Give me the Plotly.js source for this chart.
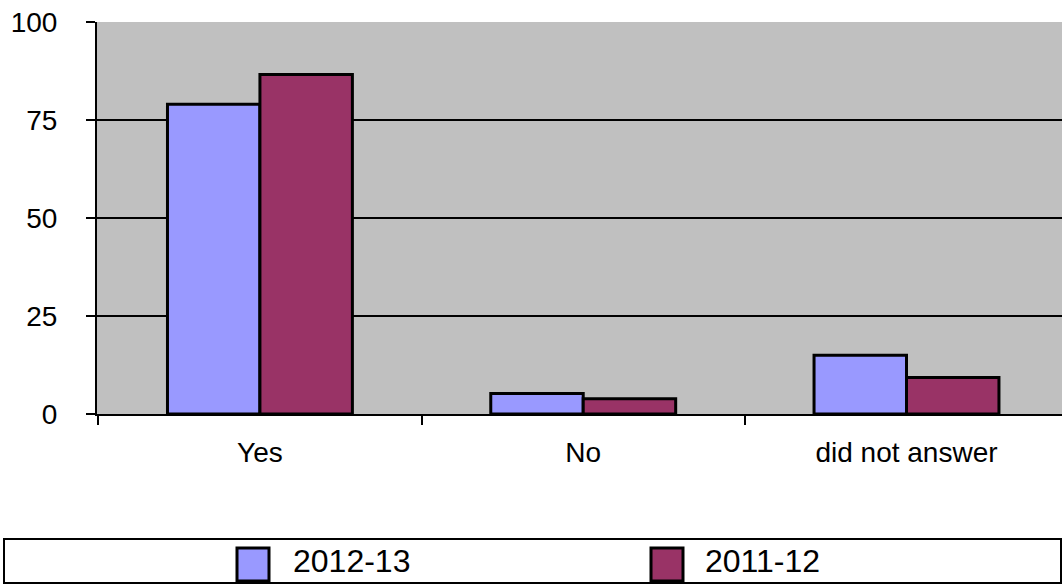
<!DOCTYPE html>
<html><head><meta charset="utf-8">
<script src="https://cdn.plot.ly/plotly-3.0.1.min.js"></script>
<style>html,body{margin:0;padding:0;background:#fff}#chart{width:1062px;height:585px}</style>
</head><body><div id="chart"></div>
<script>
const categories = ["Yes", "No", "did not answer"];
const series2012 = [79, 5.2, 15];
const series2011 = [86.6, 3.9, 9.3];
const seriesNames = ["2012-13", "2011-12"];
const seriesColors = ["#9999FF", "#993366"];
const yTicks = [0, 25, 50, 75, 100];

const W = 1062, H = 585, ML = 97, MR = 0, MT = 22, MB = 171;
const pw = W - ML - MR, ph = H - MT - MB;
const px = x => (x - ML) / pw;
const py = y => (H - MB - y) / ph;

const fam = "Liberation Sans, Arial, Helvetica, sans-serif";
const font = {family: fam, size: 28, color: "#000"};
const legFont = {family: fam, size: 32, color: "#000"};

const traces = [series2012, series2011].map((vals, i) => ({
  type: "bar", name: seriesNames[i], x: categories, y: vals,
  marker: {color: seriesColors[i], line: {color: "#000", width: 3}}
}));

// legend drawn as shapes + text (one entry per series)
const legSym = [[237, 269], [651, 683]];
const legText = [291, 703];
const shapes = [
  {type: "rect", xref: "paper", yref: "paper", x0: px(4), x1: px(1061), y0: py(583), y1: py(539),
   line: {color: "#000", width: 2}, fillcolor: "rgba(0,0,0,0)", layer: "above"}
];
const annotations = [];
seriesNames.forEach((nm, i) => {
  shapes.push({type: "rect", xref: "paper", yref: "paper",
    x0: px(legSym[i][0]), x1: px(legSym[i][1]), y0: py(581), y1: py(548),
    line: {color: "#000", width: 3}, fillcolor: seriesColors[i], layer: "above"});
  annotations.push({xref: "paper", yref: "paper", x: px(legText[i]), y: py(561),
    xanchor: "left", yanchor: "middle", text: nm, showarrow: false, font: legFont});
});

const layout = {
  width: W, height: H,
  margin: {l: ML, r: MR, t: MT, b: MB, pad: 0, autoexpand: false},
  paper_bgcolor: "#fff", plot_bgcolor: "#C0C0C0",
  font: font,
  barmode: "group", bargap: 0.428, bargroupgap: 0,
  showlegend: false,
  xaxis: {type: "category", range: [-0.504, 2.481], tickson: "boundaries",
          ticks: "outside", ticklen: 9, tickwidth: 2, tickcolor: "#000",
          showline: true, linecolor: "#000", linewidth: 2, showgrid: false,
          ticklabelstandoff: 12, tickfont: font, fixedrange: true, automargin: false},
  yaxis: {range: [0, 100], tickvals: yTicks, ticktext: yTicks.map(String),
          ticks: "outside", ticklen: 9, tickwidth: 2, tickcolor: "#000",
          showline: true, linecolor: "#000", linewidth: 2,
          showgrid: true, gridcolor: "#000", gridwidth: 2, zeroline: false,
          ticklabelstandoff: 23, tickfont: font, fixedrange: true, automargin: false},
  shapes: shapes,
  annotations: annotations
};
Plotly.newPlot("chart", traces, layout, {displayModeBar: false, staticPlot: true});
</script></body></html>
